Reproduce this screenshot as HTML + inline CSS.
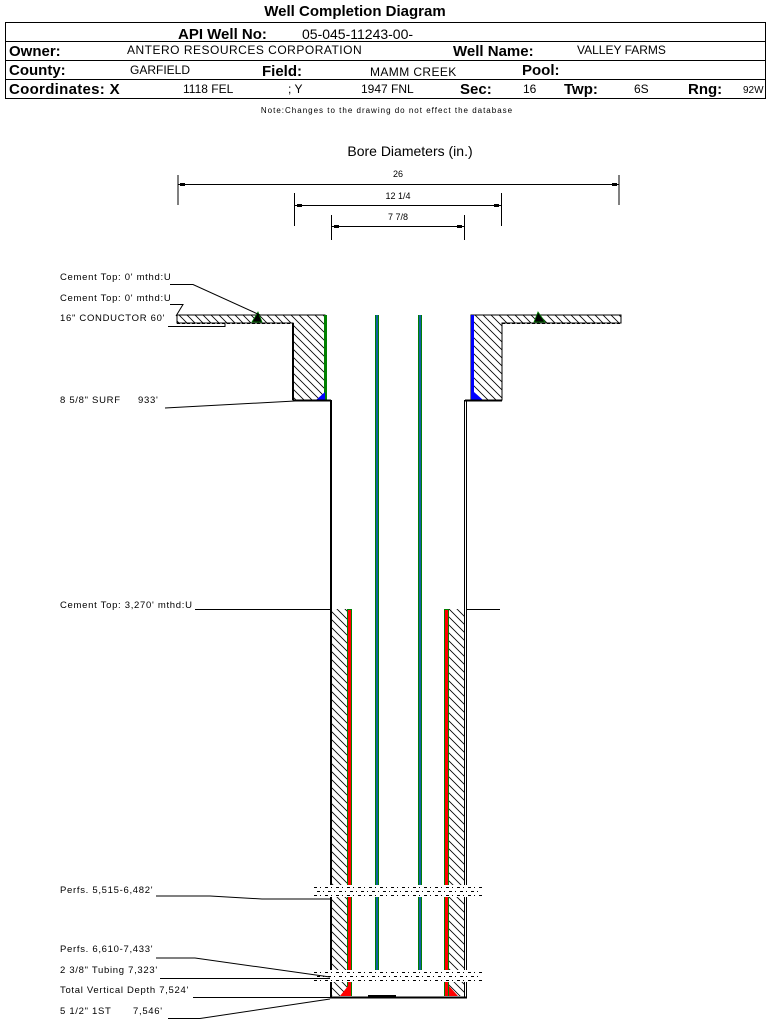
<!DOCTYPE html>
<html><head><meta charset="utf-8"><style>
body{margin:0;background:#fff}
svg{display:block}
text{font-family:"Liberation Sans",sans-serif}
</style></head><body>
<svg width="769" height="1020" viewBox="0 0 769 1020" xmlns="http://www.w3.org/2000/svg">
<defs>
<pattern id="h" width="8" height="8" patternUnits="userSpaceOnUse">
<path d="M-1,-1 L9,9 M-1,7 L1,9 M7,-1 L9,1" stroke="#000" stroke-width="0.8"/>
</pattern>
</defs>
<!-- header -->
<text x="355" y="16" font-size="15" font-weight="bold" text-anchor="middle">Well Completion Diagram</text>
<rect x="5.5" y="22.5" width="760" height="76" fill="none" stroke="#000"/>
<line x1="5" y1="41.5" x2="766" y2="41.5" stroke="#000"/>
<line x1="5" y1="60.5" x2="766" y2="60.5" stroke="#000"/>
<line x1="5" y1="79.5" x2="766" y2="79.5" stroke="#000"/>
<text x="178" y="39" font-size="15" font-weight="bold">API Well No:</text>
<text x="302" y="39" font-size="14">05-045-11243-00-</text>
<text x="9" y="56" font-size="15" font-weight="bold">Owner:</text>
<text x="127" y="54" font-size="12" letter-spacing="0.5">ANTERO RESOURCES CORPORATION</text>
<text x="453" y="56" font-size="15" font-weight="bold">Well Name:</text>
<text x="577" y="54" font-size="12">VALLEY FARMS</text>
<text x="9" y="75" font-size="15" font-weight="bold">County:</text>
<text x="130" y="74" font-size="12">GARFIELD</text>
<text x="262" y="76" font-size="15" font-weight="bold">Field:</text>
<text x="370" y="76" font-size="12" letter-spacing="0.4">MAMM CREEK</text>
<text x="522" y="75" font-size="15" font-weight="bold">Pool:</text>
<text x="9" y="94" font-size="15" font-weight="bold" letter-spacing="0.3">Coordinates: X</text>
<text x="183" y="93" font-size="12">1118 FEL</text>
<text x="288" y="93" font-size="12">; Y</text>
<text x="361" y="93" font-size="12">1947 FNL</text>
<text x="460" y="94" font-size="15" font-weight="bold">Sec:</text>
<text x="523" y="93" font-size="12">16</text>
<text x="564" y="94" font-size="15" font-weight="bold">Twp:</text>
<text x="634" y="93" font-size="12">6S</text>
<text x="688" y="94" font-size="15" font-weight="bold">Rng:</text>
<text x="743" y="93" font-size="10">92W</text>
<text x="387" y="113" font-size="8" letter-spacing="1" text-anchor="middle">Note:Changes to the drawing do not effect the database</text>
<!-- bore diameters -->
<text x="410" y="156" font-size="14" text-anchor="middle">Bore Diameters (in.)</text>
<g stroke="#000" stroke-width="1">
<line x1="178" y1="175" x2="178" y2="205"/><line x1="619" y1="175" x2="619" y2="205"/>
<line x1="178" y1="184.5" x2="619" y2="184.5"/>
<line x1="294.5" y1="193" x2="294.5" y2="226"/><line x1="501.5" y1="193" x2="501.5" y2="226"/>
<line x1="294" y1="205.5" x2="501" y2="205.5"/>
<line x1="331.5" y1="215" x2="331.5" y2="240"/><line x1="464.5" y1="215" x2="464.5" y2="240"/>
<line x1="331" y1="226.5" x2="464" y2="226.5"/>
</g>
<g fill="#000">
<rect x="180" y="183" width="5" height="3"/><rect x="612" y="183" width="5" height="3"/>
<rect x="297" y="204" width="5" height="3"/><rect x="494" y="204" width="5" height="3"/>
<rect x="334" y="225" width="5" height="3"/><rect x="457" y="225" width="5" height="3"/>
</g>
<text x="398" y="177" font-size="9" text-anchor="middle">26</text>
<text x="398" y="199" font-size="9" text-anchor="middle">12 1/4</text>
<text x="398" y="220" font-size="9" text-anchor="middle">7 7/8</text>
<!-- conductor / surface -->
<path d="M177,315 H325 V400 H293 V323 H177 Z" fill="url(#h)" stroke="#000"/>
<path d="M471,315 H621 V323 H502 V400 H471 Z" fill="url(#h)" stroke="#000"/>
<line x1="177" y1="323.5" x2="293" y2="323.5" stroke="#000" stroke-dasharray="3,2"/>
<line x1="502" y1="323.5" x2="621" y2="323.5" stroke="#000" stroke-dasharray="3,2"/>
<line x1="293" y1="323" x2="293" y2="400" stroke="#000" stroke-width="2"/>
<rect x="324" y="315" width="3" height="85" fill="#008000"/>
<rect x="471" y="315" width="3" height="85" fill="#0000ff"/>
<path d="M316,400 L325,392 L325,400 Z" fill="#0000ff"/>
<path d="M474,392 L483,400 L474,400 Z" fill="#0000ff"/>
<path d="M252,322 L258,312 L262,322 Z" fill="#000" stroke="#008000" stroke-width="0.8"/>
<path d="M534,322 L538,312 L545,322 Z" fill="#000" stroke="#008000" stroke-width="0.8"/>
<path d="M293,400.5 H331" stroke="#000" stroke-width="2"/>
<path d="M465,400.5 H502" stroke="#000" stroke-width="2"/>
<!-- hole walls -->
<line x1="331" y1="400" x2="331" y2="998" stroke="#000" stroke-width="2"/>
<line x1="464.5" y1="400" x2="464.5" y2="998" stroke="#000"/>
<line x1="466.5" y1="400" x2="466.5" y2="998" stroke="#000"/>
<line x1="330" y1="997.5" x2="467" y2="997.5" stroke="#000" stroke-width="2"/>
<!-- production casing cement -->
<rect x="332" y="609" width="15" height="387" fill="url(#h)"/>
<rect x="448" y="609" width="16" height="387" fill="url(#h)"/>
<rect x="347" y="609" width="5" height="387" fill="#008000"/>
<rect x="348" y="610" width="3" height="386" fill="#ff0000"/>
<rect x="444" y="609" width="5" height="387" fill="#008000"/>
<rect x="445" y="610" width="3" height="386" fill="#ff0000"/>
<path d="M340,996 L348,986 L348,996 Z" fill="#ff0000"/>
<path d="M449,986 L458,996 L449,996 Z" fill="#ff0000"/>
<!-- tubing -->
<rect x="375" y="315" width="4" height="660" fill="#008000"/>
<rect x="376" y="315" width="2" height="660" fill="#1060a0"/>
<rect x="418" y="315" width="4" height="660" fill="#008000"/>
<rect x="419" y="315" width="2" height="660" fill="#1060a0"/>
<rect x="368" y="995" width="28" height="2" fill="#000"/>
<!-- perfs -->
<g fill="#fff"><rect x="314" y="885" width="168" height="12"/><rect x="314" y="970" width="168" height="12"/></g>
<g stroke="#000" stroke-dasharray="3,3,1,4" stroke-width="1">
<line x1="314" y1="887.5" x2="482" y2="887.5"/><line x1="317" y1="891.5" x2="482" y2="891.5"/><line x1="314" y1="895.5" x2="482" y2="895.5"/>
<line x1="314" y1="972.5" x2="482" y2="972.5"/><line x1="317" y1="976.5" x2="482" y2="976.5"/><line x1="314" y1="980.5" x2="482" y2="980.5"/>
</g>
<!-- labels -->
<g font-size="9.5" letter-spacing="0.7">
<text x="60" y="280">Cement Top: 0' mthd:U</text>
<text x="60" y="301">Cement Top: 0' mthd:U</text>
<text x="60" y="321">16" CONDUCTOR  60'</text>
<text x="60" y="403">8 5/8" SURF</text><text x="138" y="403">933'</text>
<text x="60" y="608">Cement Top: 3,270' mthd:U</text>
<text x="60" y="893">Perfs. 5,515-6,482'</text>
<text x="60" y="952">Perfs. 6,610-7,433'</text>
<text x="60" y="973">2 3/8" Tubing 7,323'</text>
<text x="60" y="993">Total Vertical Depth 7,524'</text>
<text x="60" y="1014">5 1/2" 1ST</text><text x="133" y="1014">7,546'</text>
</g>
<g stroke="#000" fill="none" stroke-width="1">
<path d="M170,284.5 H193 L260,315"/>
<path d="M170,304.5 H183 L176,316"/>
<path d="M168,326.5 H225 L225,324"/>
<path d="M165,408 L295,401"/>
<path d="M195,609.5 H331"/>
<path d="M466,609.5 H500"/>
<path d="M156,896 H210 L262,899 H330"/>
<path d="M156,958 H195 L330,977"/>
<path d="M160,978.5 H330"/>
<path d="M193,997.5 H330"/>
<path d="M168,1018.5 H200 L330,999"/>
</g>
</svg>
</body></html>
